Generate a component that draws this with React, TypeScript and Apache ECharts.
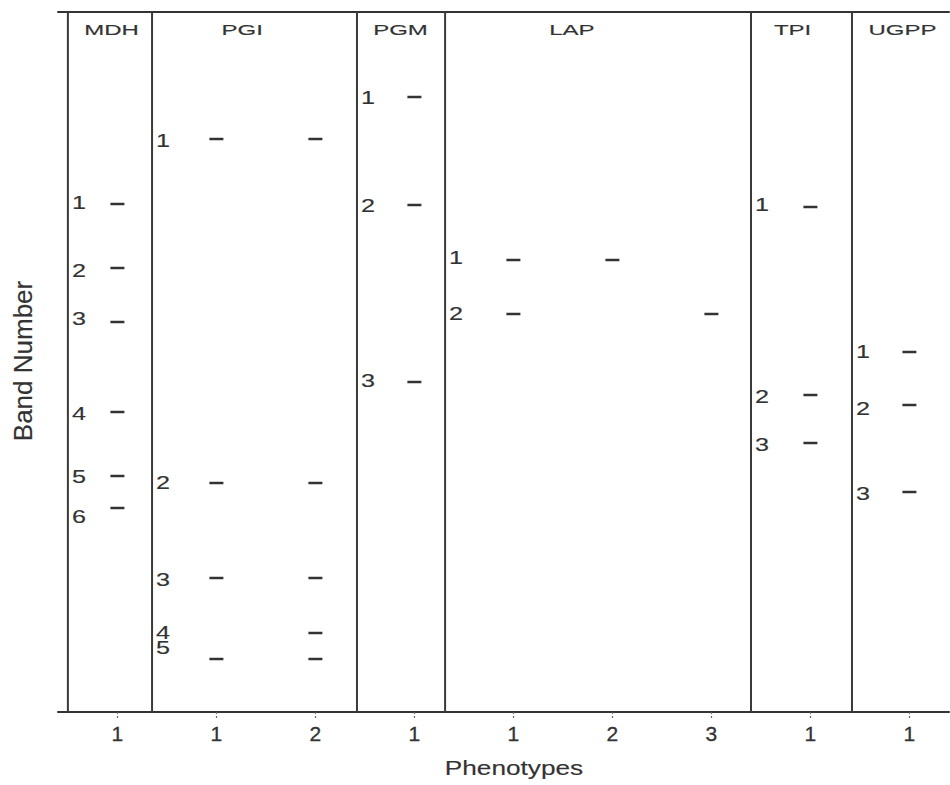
import React, { useEffect, useRef } from "react";
import * as echarts from "echarts";

// Enzyme systems (panel headers) and where their names sit on the phenotype axis
const enzymes = ["MDH", "PGI", "PGM", "LAP", "TPI", "UGPP"];
const enzymeHeaderX = [0.94, 2.26, 3.86, 5.59, 7.82, 8.93];
// Left edge of each enzyme panel, in phenotype-axis units
const panelLeftEdges = [0.5, 1.35, 3.42, 4.31, 7.4, 8.42];

// Phenotype columns (x = 1..9), their tick labels and owning enzyme
const phenotypeLabels = ["1", "1", "2", "1", "1", "2", "3", "1", "1"];
const phenotypeEnzyme = [0, 1, 1, 2, 3, 3, 3, 4, 5];
// Band numbers present in each phenotype column
const phenotypeBands = [
  [1, 2, 3, 4, 5, 6],
  [1, 2, 3, 5],
  [1, 2, 3, 4, 5],
  [1, 2, 3],
  [1, 2],
  [1],
  [2],
  [1, 2, 3],
  [1, 2, 3],
];

// Migration distance of each band from the origin (top of gel), per enzyme
const bandMigration = [
  [192, 256, 310, 400, 464, 496],
  [127, 471, 566, 621, 647],
  [85, 193, 370],
  [248, 302],
  [195, 383, 431],
  [340, 393, 480],
];
// Where the band-number labels are printed, per enzyme
const bandLabelMigration = [
  [191, 259, 307, 402, 465, 505],
  [129, 471, 568, 621, 636],
  [86, 194, 369],
  [246, 302],
  [193, 385, 433],
  [340, 397, 482],
];

const GEL_LENGTH = 700;
const HEADER_Y = 18;
const INK = "#333333";
const FONT = "'Liberation Sans', Arial, Helvetica, sans-serif";

export default function App() {
  const ref = useRef<HTMLDivElement>(null);

  useEffect(() => {
    if (!ref.current) return;
    const chart = echarts.init(ref.current, null, { renderer: "svg" });

    const bandData: number[][] = [];
    phenotypeBands.forEach((bands, i) => {
      const e = phenotypeEnzyme[i];
      bands.forEach((b) => bandData.push([i + 1, bandMigration[e][b - 1]]));
    });

    const labelData: number[][] = [];
    const labelTexts: string[] = [];
    bandLabelMigration.forEach((arr, e) => {
      arr.forEach((y, j) => {
        labelData.push([panelLeftEdges[e], y]);
        labelTexts.push(String(j + 1));
      });
    });

    const headerData = enzymes.map((_, e) => [enzymeHeaderX[e], HEADER_Y]);
    const separatorData = panelLeftEdges.map((x) => [x, 0]);
    const ticks = phenotypeLabels.map((_, i) => i + 1);

    const textStyle = (text: string, fontSize: number, align: string) => ({
      text,
      fontSize,
      fontFamily: FONT,
      fill: INK,
      stroke: INK,
      lineWidth: 0.15,
      align,
      verticalAlign: "middle",
    });

    const option: any = {
      animation: false,
      backgroundColor: "#ffffff",
      grid: { left: 58, right: 1, top: 12, bottom: 73 },
      xAxis: [
        {
          type: "value",
          min: 0.4,
          max: 9.4,
          position: "bottom",
          splitLine: { show: false },
          axisLine: { show: true, onZero: false, lineStyle: { color: INK, width: 2 } },
          axisTick: {
            show: true,
            customValues: ticks,
            length: 8,
            lineStyle: { color: "#666", width: 1.2, type: [2, 2] },
          },
          axisLabel: {
            customValues: ticks,
            formatter: (v: number) => phenotypeLabels[Math.round(v) - 1] ?? "",
            fontSize: 21,
            color: INK,
            fontFamily: FONT,
            textBorderColor: INK,
            textBorderWidth: 0.3,
            margin: 11,
          },
        },
        {
          type: "value",
          min: 0.4,
          max: 9.4,
          position: "top",
          splitLine: { show: false },
          axisLine: { show: true, onZero: false, lineStyle: { color: INK, width: 2 } },
          axisTick: { show: false },
          axisLabel: { show: false },
        },
      ],
      yAxis: {
        type: "value",
        min: 0,
        max: GEL_LENGTH,
        inverse: true,
        show: false,
      },
      graphic: [
        {
          type: "text",
          x: 514,
          y: 768,
          scaleX: 1.31,
          style: textStyle("Phenotypes", 20, "center"),
        },
        {
          type: "text",
          x: 23,
          y: 361,
          rotation: Math.PI / 2,
          style: textStyle("Band Number", 26, "center"),
        },
      ],
      series: [
        {
          type: "custom",
          name: "panels",
          xAxisIndex: 0,
          data: separatorData,
          renderItem: (_p: any, api: any) => {
            const a = api.coord([api.value(0), 0]);
            const b = api.coord([api.value(0), GEL_LENGTH]);
            return {
              type: "line",
              shape: { x1: a[0], y1: a[1], x2: b[0], y2: b[1] },
              style: { stroke: "#3a3a3a", lineWidth: 2 },
            };
          },
        },
        {
          type: "custom",
          name: "headers",
          xAxisIndex: 0,
          data: headerData,
          renderItem: (p: any, api: any) => {
            const c = api.coord([api.value(0), api.value(1)]);
            return {
              type: "text",
              x: c[0],
              y: c[1],
              scaleX: 1.6,
              style: textStyle(enzymes[p.dataIndex], 15, "center"),
            };
          },
        },
        {
          type: "custom",
          name: "band numbers",
          xAxisIndex: 0,
          data: labelData,
          renderItem: (p: any, api: any) => {
            const c = api.coord([api.value(0), api.value(1)]);
            return {
              type: "text",
              x: c[0] + 4,
              y: c[1],
              scaleX: 1.4,
              style: textStyle(labelTexts[p.dataIndex], 18, "left"),
            };
          },
        },
        {
          type: "custom",
          name: "bands",
          xAxisIndex: 0,
          data: bandData,
          renderItem: (_p: any, api: any) => {
            const c = api.coord([api.value(0), api.value(1)]);
            return {
              type: "rect",
              shape: { x: c[0] - 7, y: c[1] - 1.25, width: 14, height: 2.5 },
              style: { fill: INK },
            };
          },
        },
      ],
    };

    chart.setOption(option);
    return () => chart.dispose();
  }, []);

  return (
    <div
      ref={ref}
      style={{ position: "fixed", left: 0, top: 0, width: 950, height: 785, background: "#fff" }}
    />
  );
}
